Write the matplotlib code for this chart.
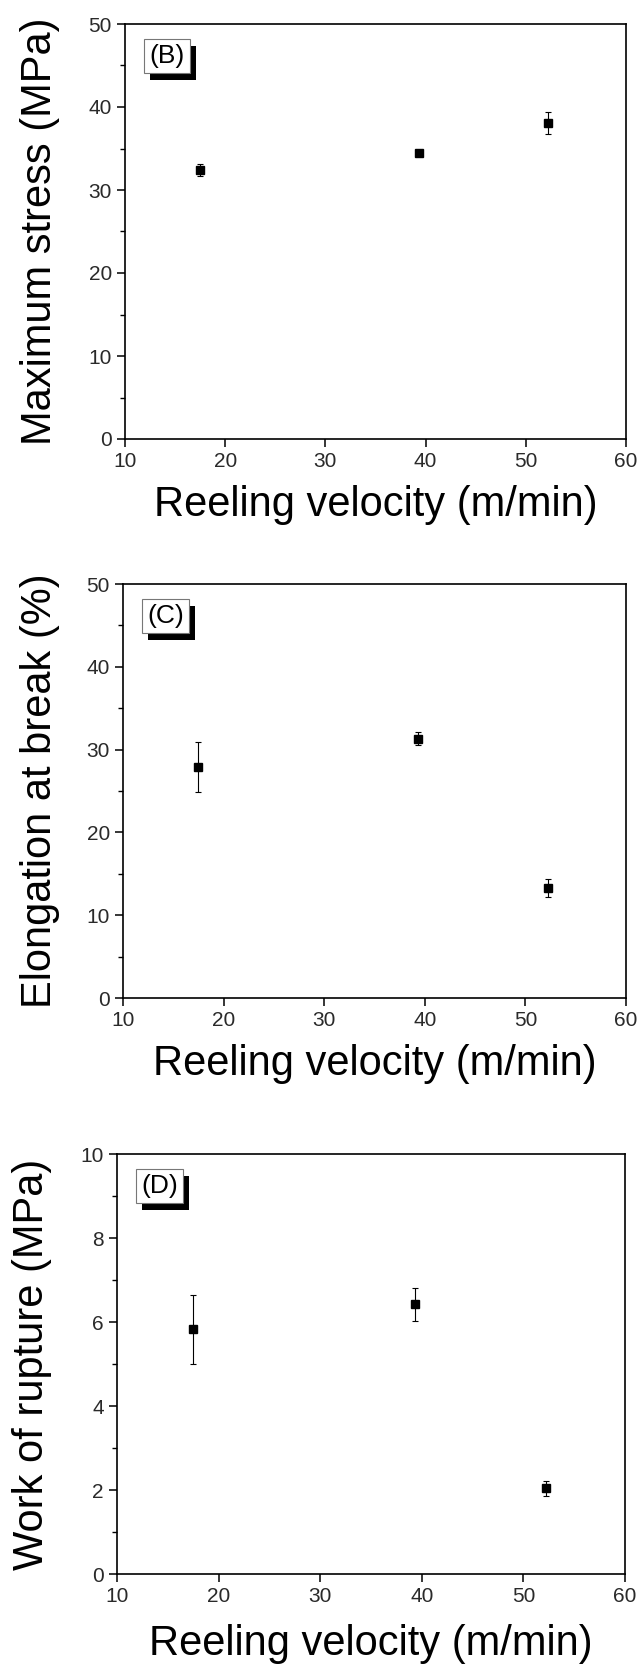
import matplotlib
matplotlib.use("Agg")
import matplotlib.pyplot as plt
import matplotlib.patheffects as pe
from matplotlib.ticker import MultipleLocator

plt.rcParams["font.family"] = ["Liberation Sans", "DejaVu Sans"]

# reeling velocity (m/min)
velocity = [17.5, 39.3, 52.2]

# (B) maximum stress
stress = [32.4, 34.5, 38.1]
stress_err = [0.7, 0.3, 1.3]

# (C) elongation at break
elongation = [27.9, 31.3, 13.3]
elongation_err = [3.0, 0.8, 1.1]

# (D) work of rupture
work = [5.83, 6.42, 2.04]
work_err = [0.82, 0.40, 0.18]

W, H = 641, 1664


def make_axes(fig, left, right, top, bottom):
    return fig.add_axes([left / W, 1 - bottom / H, (right - left) / W, (bottom - top) / H])


def draw_panel(ax, y, yerr, ymax, major, minor, ylabel, tag, ylab_x, xlab_y):
    ax.errorbar(velocity, y, yerr=yerr, fmt="s", color="black", ms=6,
                ecolor="black", elinewidth=0.8, capsize=2.5, capthick=0.8)
    ax.set_xlim(10, 60)
    ax.set_ylim(0, ymax)
    ax.xaxis.set_major_locator(MultipleLocator(10))
    ax.yaxis.set_major_locator(MultipleLocator(major))
    ax.yaxis.set_minor_locator(MultipleLocator(minor))
    ax.tick_params(which="major", direction="out", length=6, width=1.1,
                   labelsize=15, pad=3.5, labelcolor="#2a2a2a", top=False, right=False)
    ax.tick_params(which="minor", direction="out", length=3.5, width=1.0)
    for s in ax.spines.values():
        s.set_linewidth(1.2)
    ax.set_xlabel("Reeling velocity (m/min)", fontsize=30)
    ax.set_ylabel(ylabel, fontsize=30)
    ax.yaxis.set_label_coords(ylab_x, 0.5)
    ax.xaxis.set_label_coords(0.5, xlab_y)

    t = ax.annotate(tag, xy=(0, 1), xycoords="axes fraction",
                    xytext=(24, -20), textcoords="offset pixels",
                    fontsize=19, ha="left", va="top",
                    bbox=dict(boxstyle="square,pad=0.2", facecolor="white",
                              edgecolor="#777777", linewidth=0.8))
    t.get_bbox_patch().set_path_effects([
        pe.SimplePatchShadow(offset=(4.5, -5), shadow_rgbFace="black", alpha=1.0),
        pe.Normal(),
    ])


fig = plt.figure(figsize=(W / 100, H / 100), dpi=100)

ax_b = make_axes(fig, 125, 626, 24, 439)
draw_panel(ax_b, stress, stress_err, 50, 10, 5, "Maximum stress (MPa)", "(B)", -0.13, -0.11)

ax_c = make_axes(fig, 123, 626, 584, 998)
draw_panel(ax_c, elongation, elongation_err, 50, 10, 5, "Elongation at break (%)", "(C)", -0.125, -0.11)

ax_d = make_axes(fig, 117, 625, 1154, 1574)
draw_panel(ax_d, work, work_err, 10, 2, 1, "Work of rupture (MPa)", "(D)", -0.128, -0.12)

fig.savefig("out.png", dpi=100, facecolor="white")
